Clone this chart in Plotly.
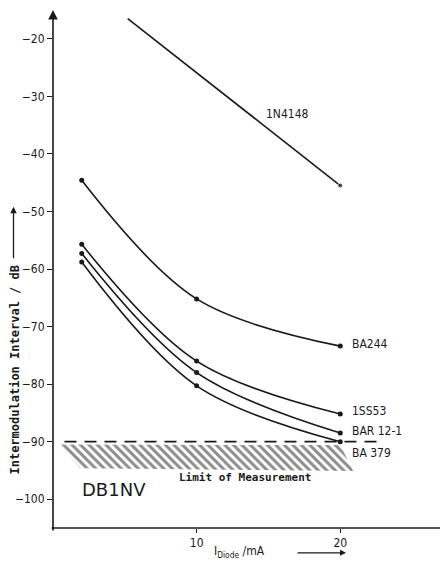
import plotly.graph_objects as go

# ---- data ----
x_1n4148 = [5.2, 20]
y_1n4148 = [-16.5, -45.5]

x_diodes = [2, 10, 20]
y_ba244 = [-44.6, -65.2, -73.4]
y_1ss53 = [-55.7, -76.0, -85.2]
y_bar121 = [-57.3, -78.0, -88.5]
y_ba379 = [-58.8, -80.3, -90.0]

limit_db = -90
x_ticks = [10, 20]
y_ticks = [-20, -30, -40, -50, -60, -70, -80, -90, -100]

series_labels = ["1N4148", "BA244", "1SS53", "BAR 12-1", "BA 379"]

# hatched "limit" region outline
hatch_x = [0.35, 1.9, 20.9, 20.0, 0.35]
hatch_y = [-90.5, -94.6, -95.1, -90.6, -90.5]

NARROW = "Liberation Sans Narrow, DejaVu Sans Condensed, Arial Narrow, Liberation Sans, sans-serif"
MONO = "DejaVu Sans Mono, Liberation Mono, monospace"
INK = "#1a1a1a"

fig = go.Figure()

# hatched region
fig.add_trace(go.Scatter(
    x=hatch_x, y=hatch_y, mode="lines", fill="toself",
    line=dict(width=0, color="rgba(0,0,0,0)"),
    fillcolor="rgba(0,0,0,0)",
    fillpattern=dict(shape="\\", size=6, solidity=0.5, fgcolor=INK, bgcolor="rgba(0,0,0,0)"),
    hoverinfo="skip", showlegend=False,
))

# dashed limit line
fig.add_trace(go.Scatter(
    x=[0.8, 23.0], y=[limit_db, limit_db], mode="lines",
    line=dict(color=INK, width=1.6, dash="12px,8px"),
    hoverinfo="skip", showlegend=False,
))

# 1N4148 straight line with end dot
fig.add_trace(go.Scatter(
    x=x_1n4148, y=y_1n4148, mode="lines+markers",
    line=dict(color=INK, width=1.6),
    marker=dict(color=INK, size=[0, 5]),
    showlegend=False,
))

for ys in (y_ba244, y_1ss53, y_bar121, y_ba379):
    fig.add_trace(go.Scatter(
        x=x_diodes, y=ys, mode="lines+markers",
        line=dict(color=INK, width=1.6, shape="spline", smoothing=1.0),
        marker=dict(color=INK, size=5),
        showlegend=False,
    ))

# series labels
label_pos = [
    (16.3, -33.0, "center"),
    (20.7, -73.0, "left"),
    (20.7, -84.6, "left"),
    (20.7, -88.1, "left"),
    (20.7, -91.9, "left"),
]
for (lx, ly, al), txt in zip(label_pos, series_labels):
    fig.add_annotation(x=lx, y=ly, text=txt, showarrow=False, xanchor=al,
                       font=dict(family=NARROW, size=12, color=INK))

fig.add_annotation(x=13.4, y=-96.3, text="<b>Limit of Measurement</b>", showarrow=False,
                   font=dict(family=MONO, size=11, color=INK))
fig.add_annotation(x=1.9, y=-98.3, text="DB1NV", showarrow=False, xanchor="left",
                   font=dict(family="DejaVu Sans, sans-serif", size=18, color=INK))

# y axis line with arrow (paper refs so it is never hidden)
fig.add_annotation(x=0, y=1.0, xref="paper", yref="paper", ax=0, ay=522, axref="pixel", ayref="pixel",
                   showarrow=True, arrowhead=2, arrowsize=1.2, arrowwidth=1.6, arrowcolor=INK, text="")
# x axis line with arrow
fig.add_annotation(x=27.5, y=-105, ax=-0.2, ay=-105, xref="x", yref="y", axref="x", ayref="y",
                   showarrow=True, arrowhead=6, arrowsize=1, arrowwidth=1.4, arrowcolor=INK, text="")

# y axis title with arrow
fig.add_annotation(x=-0.118, y=-77.4, xref="paper", yref="y",
                   text="<b>Intermodulation Interval / dB</b>", showarrow=False,
                   textangle=-90, font=dict(family=MONO, size=12, color=INK))
fig.add_annotation(x=-0.1, y=-49.2, xref="paper", yref="y", ax=0, ay=53, axref="pixel", ayref="pixel",
                   showarrow=True, arrowhead=2, arrowsize=1, arrowwidth=1.3, arrowcolor=INK, text="")

# x axis title with arrow
fig.add_annotation(x=11.1, y=-0.065, xref="x", yref="paper", xanchor="left",
                   text="I<sub>Diode</sub> /mA", showarrow=False,
                   font=dict(family=NARROW, size=12, color=INK))
fig.add_annotation(x=20.4, y=-0.048, ax=-50, ay=0, xref="x", yref="paper", axref="pixel", ayref="pixel",
                   showarrow=True, arrowhead=2, arrowsize=1, arrowwidth=1.2, arrowcolor=INK, text="")

# margins compensate for the 8px page margin around the figure
fig.update_layout(
    width=448, height=563,
    margin=dict(l=45, r=8, t=2, b=43),
    paper_bgcolor="white", plot_bgcolor="white",
    showlegend=False,
    xaxis=dict(range=[0, 27.5], tickvals=x_ticks, ticks="outside", ticklen=4, tickcolor=INK,
               showgrid=False, zeroline=False, showline=False, automargin=False,
               tickfont=dict(family=NARROW, size=12, color=INK)),
    yaxis=dict(range=[-105, -15], tickvals=y_ticks, ticks="outside", ticklen=5, tickcolor=INK,
               showgrid=False, zeroline=False, showline=False, automargin=False,
               tickfont=dict(family=NARROW, size=12, color=INK)),
)

fig.write_html("out.html")
